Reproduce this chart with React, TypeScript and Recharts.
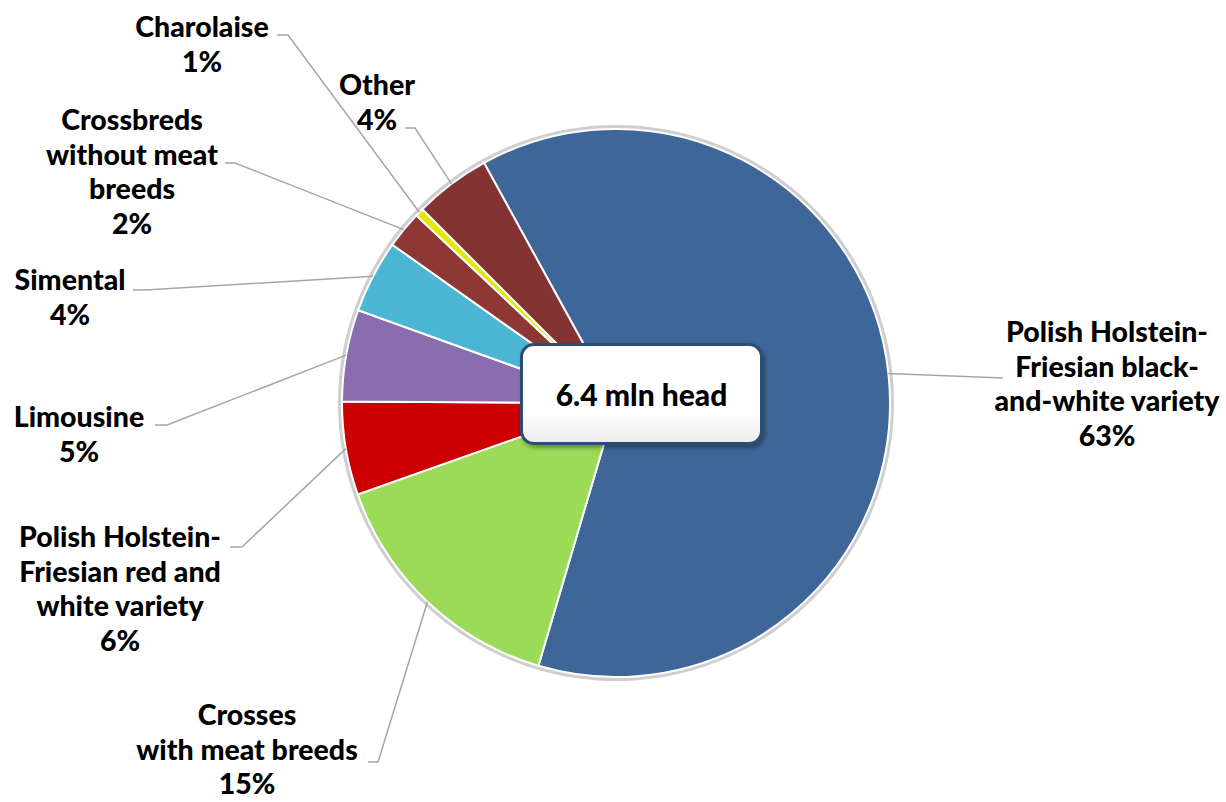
import React from "react";
import { PieChart, Pie, Cell } from "recharts";

// ---- data ----
const breedNames = [
  "Polish Holstein-Friesian black-and-white variety",
  "Crosses with meat breeds",
  "Polish Holstein-Friesian red and white variety",
  "Limousine",
  "Simental",
  "Crossbreds without meat breeds",
  "Charolaise",
  "Other",
];
const labelLines = [
  ["Polish Holstein-", "Friesian black-", "and-white variety"],
  ["Crosses", "with meat breeds"],
  ["Polish Holstein-", "Friesian red and", "white variety"],
  ["Limousine"],
  ["Simental"],
  ["Crossbreds", "without meat", "breeds"],
  ["Charolaise"],
  ["Other"],
];
const shares = [62.5, 15, 5.5, 5.4, 4.3, 2.2, 0.5, 4.49];
const sliceColors = ["#3E6699", "#9CDB58", "#CC0000", "#8A6DAF", "#4BB6D3", "#8E3836", "#E6E600", "#833331"];
const totalHead = "6.4 mln head";

// ---- label layout (text centre x, first baseline y, elbow, line end near text) ----
const labelLayout: { x: number; y: number; elbow: number[] | null; end: number[] }[] = [
  { x: 1107, y: 342, elbow: null, end: [1003, 378] },
  { x: 247, y: 725, elbow: [378, 762], end: [368, 762] },
  { x: 120, y: 547, elbow: [242, 547], end: [230, 547] },
  { x: 79, y: 427, elbow: [167, 425], end: [155, 425] },
  { x: 70, y: 290, elbow: [145, 290], end: [133, 290] },
  { x: 132, y: 130, elbow: [235, 163], end: [225, 163] },
  { x: 202, y: 37, elbow: [288, 35], end: [277, 35] },
  { x: 377, y: 95, elbow: [415, 128], end: [405, 128] },
];

const data = breedNames.map((name, i) => ({ name, value: shares[i] }));
const ringData = [{ name: "ring", value: 1 }];

const RAD = Math.PI / 180;

const renderLabel = (props: any) => {
  const { cx, cy, midAngle, outerRadius, index, percent } = props;
  const ex = cx + outerRadius * Math.cos(-midAngle * RAD);
  const ey = cy + outerRadius * Math.sin(-midAngle * RAD);
  const L = labelLayout[index];
  const pts = [[ex, ey], ...(L.elbow ? [L.elbow] : []), L.end];
  const lines = [...labelLines[index], `${Math.round(percent * 100)}%`];
  return (
    <g key={`lbl-${index}`}>
      <polyline
        points={pts.map((p) => p.join(",")).join(" ")}
        fill="none"
        stroke="#a6a6a6"
        strokeWidth={1.5}
      />
      <text
        x={L.x}
        y={L.y}
        textAnchor="middle"
        fontFamily="Lato"
        fontWeight={900}
        fontSize={28.5}
        fill="#000"
      >
        {lines.map((t, i) => (
          <tspan key={i} x={L.x} dy={i === 0 ? 0 : 34.5}>
            {t}
          </tspan>
        ))}
      </text>
    </g>
  );
};

export default function App() {
  return (
    <div style={{ position: "absolute", left: 0, top: 0, width: 1226, height: 802, background: "#fff" }}>
      <PieChart width={1226} height={802} margin={{ top: 0, right: 0, bottom: 0, left: 0 }}>
        <Pie
          data={ringData}
          dataKey="value"
          cx={616}
          cy={403}
          outerRadius={278}
          fill="#cfcfcf"
          stroke="none"
          isAnimationActive={false}
        />
        <Pie
          data={data}
          dataKey="value"
          nameKey="name"
          cx={616}
          cy={403}
          outerRadius={274}
          startAngle={118.8}
          endAngle={-241.2}
          stroke="#ffffff"
          strokeWidth={2}
          label={renderLabel}
          labelLine={false}
          isAnimationActive={false}
        >
          {data.map((d, i) => (
            <Cell key={d.name} fill={sliceColors[i]} />
          ))}
        </Pie>
      </PieChart>
      <div
        style={{
          position: "absolute",
          left: 520,
          top: 343,
          width: 243,
          height: 102,
          boxSizing: "border-box",
          border: "3px solid #2C4C70",
          borderRadius: 14,
          background: "linear-gradient(#ffffff 70%, #ececec)",
          boxShadow: "2px 3px 4px rgba(0,0,0,0.35)",
          display: "flex",
          alignItems: "center",
          justifyContent: "center",
          fontFamily: "Lato",
          fontWeight: 900,
          fontSize: 30,
          color: "#000",
        }}
      >
        {totalHead}
      </div>
    </div>
  );
}
